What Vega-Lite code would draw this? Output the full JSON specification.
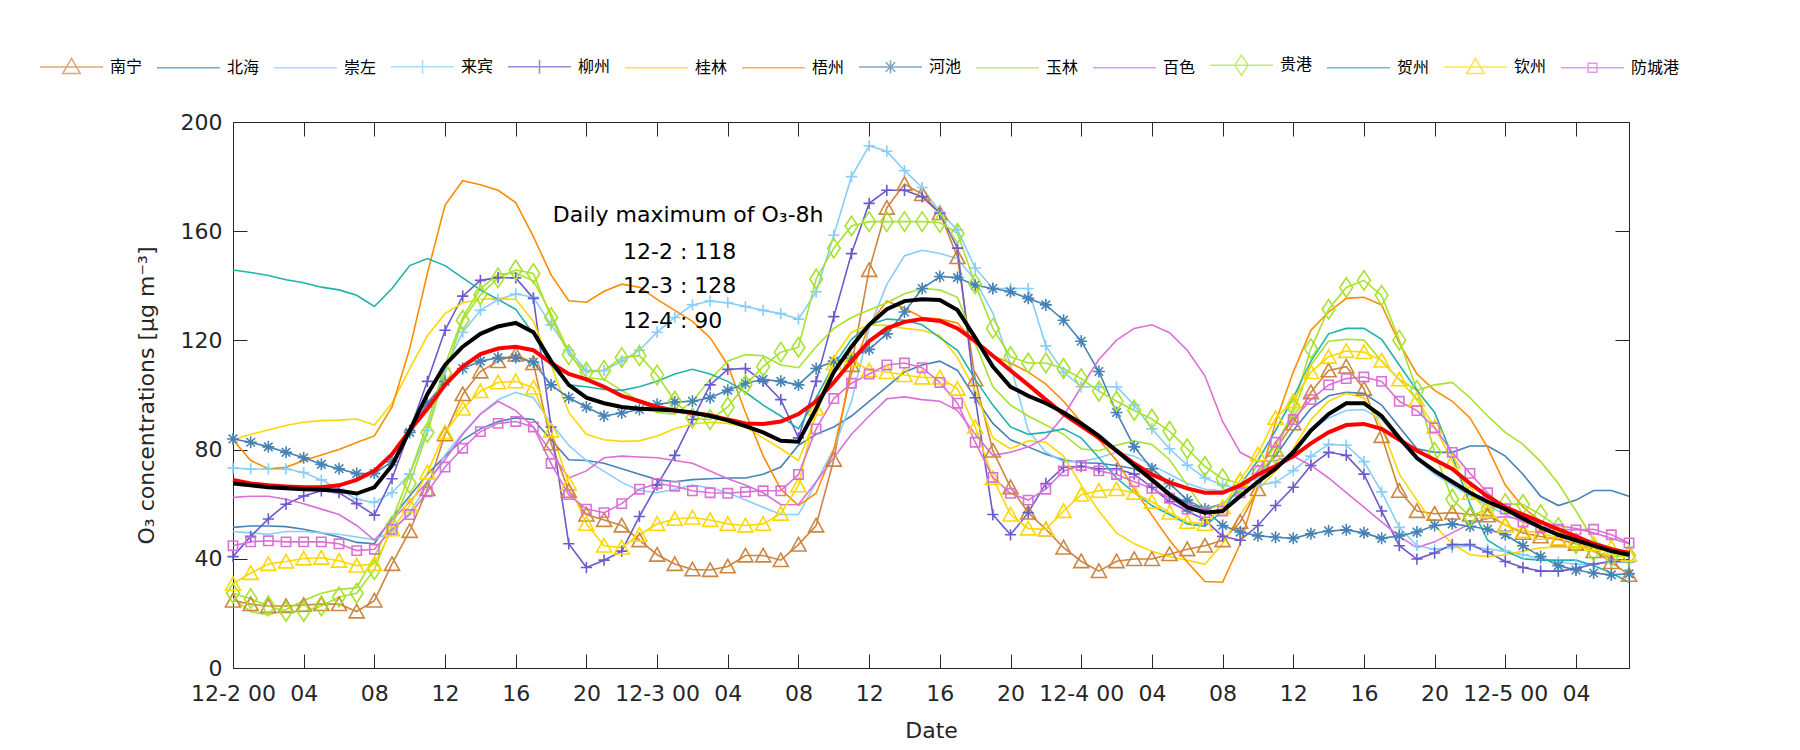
{
"$schema": "https://vega.github.io/schema/vega-lite/v6.json",
"width": 1396, "height": 546,
"autosize": {"type": "none"},
"padding": {"left": 233, "top": 122, "right": 171, "bottom": 82},
"background": "white",
"config": {
  "view": {"stroke": "#262626", "strokeWidth": 1},
  "axis": {"grid": false, "domain": false, "tickColor": "#262626", "tickWidth": 1, "tickSize": -14, "labelFont": "DejaVu Sans", "labelFontSize": 22, "labelColor": "#262626", "titleFont": "DejaVu Sans", "titleFontSize": 22, "titleFontWeight": "normal", "titleColor": "#262626"}
},
"datasets": {
"o3": [
{"h":0,"南宁":24.7,"北海":51.5,"崇左":50,"来宾":73.2,"柳州":40.8,"桂林":83.6,"梧州":83.6,"河池":83.9,"玉林":25.4,"百色":62.5,"贵港":27.4,"贺州":145.8,"钦州":30.8,"防城港":44.8,"avg8h":68.9,"avg":67.6},
{"h":1,"南宁":23.4,"北海":52,"崇左":49.5,"来宾":72.9,"柳州":48.2,"桂林":85.6,"梧州":76,"河池":82.7,"玉林":20.7,"百色":62.9,"贵港":25.4,"贺州":144.9,"钦州":34.8,"防城港":46.2,"avg8h":67.6,"avg":66.9},
{"h":2,"南宁":22.7,"北海":52,"崇左":49,"来宾":72.9,"柳州":54.6,"桂林":87.2,"梧州":73,"河池":81,"玉林":19.4,"百色":62.9,"贵港":22.7,"贺州":143.8,"钦州":38.1,"防城港":46.6,"avg8h":66.9,"avg":66.2},
{"h":3,"南宁":22.7,"北海":51.8,"崇左":50,"来宾":72.9,"柳州":60,"桂林":88.8,"梧州":73.5,"河池":79,"玉林":21.4,"百色":61.8,"贵港":20.7,"贺州":142.2,"钦州":39,"防城港":46.2,"avg8h":66.5,"avg":65.8},
{"h":4,"南宁":23.1,"北海":50.8,"崇左":50,"来宾":71.6,"柳州":63,"桂林":90,"梧州":76,"河池":77,"玉林":24.7,"百色":60.2,"贵港":20.7,"贺州":141.1,"钦州":40.1,"防城港":46.2,"avg8h":66.2,"avg":65.5},
{"h":5,"南宁":23.4,"北海":49.5,"崇左":49.5,"来宾":68.9,"柳州":64.9,"桂林":90.6,"梧州":78,"河池":74.6,"玉林":27.4,"百色":58.2,"贵港":22.7,"贺州":139.5,"钦州":40.4,"防城港":46.2,"avg8h":66.2,"avg":65.3},
{"h":6,"南宁":23.4,"北海":48,"崇左":49,"来宾":65.5,"柳州":64.2,"桂林":90.8,"梧州":80,"河池":73,"玉林":28.8,"百色":56.2,"贵港":26,"贺州":138.5,"钦州":39.3,"防城港":45.5,"avg8h":66.9,"avg":64.9},
{"h":7,"南宁":20.7,"北海":46,"崇左":48,"来宾":61.8,"柳州":60.2,"桂林":91.2,"梧州":82.6,"河池":71.2,"玉林":29.4,"百色":52.2,"贵港":27.4,"贺州":136.5,"钦州":37.5,"防城港":43,"avg8h":68.9,"avg":63.9},
{"h":8,"南宁":24.7,"北海":45.5,"崇左":47,"来宾":60.6,"柳州":56,"桂林":89,"梧州":85,"河池":71.3,"玉林":40.8,"百色":46.8,"贵港":36,"贺州":132.4,"钦州":38.1,"防城港":43.5,"avg8h":72.2,"avg":66.2},
{"h":9,"南宁":38.1,"北海":55,"崇左":50,"来宾":64.2,"柳州":69.3,"桂林":97,"梧州":95.6,"河池":75.6,"玉林":54.2,"百色":54.2,"贵港":52,"贺州":139,"钦州":50.8,"防城港":50.8,"avg8h":78.3,"avg":74.2},
{"h":10,"南宁":50.2,"北海":63,"崇左":57,"来宾":71,"柳州":87,"桂林":109.7,"梧州":117,"河池":86.3,"玉林":71,"百色":60.9,"贵港":67.6,"贺州":147.4,"钦州":59.5,"防城港":56.2,"avg8h":87,"avg":87},
{"h":11,"南宁":65.5,"北海":71,"崇左":67,"来宾":87,"柳州":105,"桂林":121.7,"梧州":144.5,"河池":97,"玉林":89.6,"百色":68.2,"贵港":86.3,"贺州":150,"钦州":71.6,"防城港":64.5,"avg8h":95,"avg":100.3},
{"h":12,"南宁":85.6,"北海":77.6,"崇左":78,"来宾":109.7,"柳州":123.7,"桂林":129.8,"梧州":169.6,"河池":105,"玉林":111,"百色":76.3,"贵港":108,"贺州":147.4,"钦州":86.3,"防城港":73.6,"avg8h":103.7,"avg":111},
{"h":13,"南宁":100.3,"北海":83.6,"崇左":86,"来宾":123,"柳州":136.2,"桂林":133.8,"梧州":178.5,"河池":109.7,"玉林":128.4,"百色":85.6,"贵港":127.4,"贺州":142.9,"钦州":95,"防城港":80.5,"avg8h":110.4,"avg":117.7},
{"h":14,"南宁":108.6,"北海":87.6,"崇左":93,"来宾":131,"柳州":142,"桂林":135,"梧州":177,"河池":112.4,"玉林":139,"百色":93,"贵港":136.7,"贺州":138.5,"钦州":101.4,"防城港":86.6,"avg8h":115,"avg":122.4},
{"h":15,"南宁":112.4,"北海":90.3,"崇左":98.3,"来宾":135,"柳州":143,"桂林":135.4,"梧州":175,"河池":113.7,"玉林":144.2,"百色":97.7,"贵港":142.9,"贺州":135,"钦州":104.6,"防城港":89.6,"avg8h":117,"avg":125.1},
{"h":16,"南宁":114.8,"北海":91.6,"崇左":101,"来宾":137,"柳州":142.9,"桂林":135,"梧州":170.5,"河池":113.7,"玉林":144.7,"百色":94.3,"贵港":145.8,"贺州":131.4,"钦州":105,"防城港":90.3,"avg8h":117.7,"avg":126.4},
{"h":17,"南宁":111.7,"北海":91,"崇左":99,"来宾":135.8,"柳州":135.4,"桂林":127,"梧州":158,"河池":112,"玉林":141.8,"百色":88.3,"贵港":144.5,"贺州":122.4,"钦州":102.7,"防城港":88.3,"avg8h":116.4,"avg":123},
{"h":18,"南宁":82.3,"北海":83.6,"崇左":89.6,"来宾":125.7,"柳州":88.3,"桂林":111,"梧州":144,"河池":103.7,"玉林":129.8,"百色":79,"贵港":128.4,"贺州":111,"钦州":87,"防城港":74.9,"avg8h":111.7,"avg":112.4},
{"h":19,"南宁":64.9,"北海":76.3,"崇左":81.6,"来宾":116.4,"柳州":45.5,"桂林":93.6,"梧州":134.5,"河池":99,"玉林":115.7,"百色":69.6,"贵港":114.8,"贺州":103.7,"钦州":67.6,"防城港":63.5,"avg8h":107.7,"avg":103.7},
{"h":20,"南宁":56.2,"北海":76,"崇左":76,"来宾":109,"柳州":36.8,"桂林":85.6,"梧州":134,"河池":95.6,"玉林":106.4,"百色":72.2,"贵港":108.4,"贺州":103,"钦州":52.8,"防城港":58.2,"avg8h":105.7,"avg":99},
{"h":21,"南宁":54.2,"北海":75,"崇左":72,"来宾":109,"柳州":39.5,"桂林":83.6,"梧州":138,"河池":92.3,"玉林":105.7,"百色":77,"贵港":109,"贺州":102,"钦州":44.8,"防城港":56.9,"avg8h":103,"avg":97},
{"h":22,"南宁":52.2,"北海":73,"崇左":68,"来宾":112.4,"柳州":42.8,"桂林":83,"梧州":140.6,"河池":93.4,"玉林":101.7,"百色":77.6,"贵港":113.7,"贺州":101.7,"钦州":44.1,"防城港":60.2,"avg8h":99.7,"avg":95.6},
{"h":23,"南宁":46.8,"北海":71,"崇左":65,"来宾":116.4,"柳州":55.5,"桂林":83.2,"梧州":139.5,"河池":94.7,"玉林":97.7,"百色":77.3,"贵港":114.4,"贺州":103,"钦州":48.8,"防城港":65.5,"avg8h":97.7,"avg":95},
{"h":24,"南宁":41.5,"北海":69,"崇左":64.2,"来宾":123,"柳州":67,"桂林":85,"梧州":135,"河池":96.6,"玉林":93.6,"百色":77,"贵港":107.3,"贺州":105,"钦州":52.8,"防城港":67.6,"avg8h":95.6,"avg":94.7},
{"h":25,"南宁":38.1,"北海":68.2,"崇左":65.5,"来宾":128.4,"柳州":77.9,"桂林":87.6,"梧州":131,"河池":97.4,"玉林":93,"百色":76,"贵港":97.7,"贺州":107.7,"钦州":54.6,"防城港":66.6,"avg8h":94.3,"avg":94.3},
{"h":26,"南宁":36.1,"北海":69,"崇左":67,"来宾":133,"柳州":91,"桂林":89.4,"梧州":127,"河池":97.7,"玉林":97.7,"百色":75,"贵港":91.6,"贺州":109.4,"钦州":55.1,"防城港":64.9,"avg8h":93.4,"avg":93.6},
{"h":27,"南宁":35.9,"北海":69.3,"崇左":66,"来宾":134.4,"柳州":103.7,"桂林":90,"梧州":121,"河池":99,"玉林":105.7,"百色":72.2,"贵港":91,"贺州":107.7,"钦州":54.2,"防城港":64.2,"avg8h":92.6,"avg":92.3},
{"h":28,"南宁":37.2,"北海":69.6,"崇左":64.2,"来宾":133.8,"柳州":109.4,"桂林":89.6,"梧州":111,"河池":101.7,"玉林":112.4,"百色":69.3,"贵港":95.6,"贺州":105,"钦州":52.8,"防城港":64,"avg8h":91,"avg":90.7},
{"h":29,"南宁":41.2,"北海":69.6,"崇左":61.5,"来宾":132.4,"柳州":109.7,"桂林":88.3,"梧州":93.6,"河池":104.3,"玉林":114.8,"百色":67,"贵港":103.7,"贺州":101,"钦州":52.2,"防城港":64.5,"avg8h":89.6,"avg":88.6},
{"h":30,"南宁":41.2,"北海":71,"崇左":58.9,"来宾":131,"柳州":105,"桂林":84.3,"梧州":77.7,"河池":105.7,"玉林":114.4,"百色":64.2,"贵港":110.4,"贺州":96.3,"钦州":52.8,"防城港":64.9,"avg8h":89.4,"avg":86.3},
{"h":31,"南宁":39.5,"北海":73.6,"崇左":56.2,"来宾":129.8,"柳州":98.3,"桂林":80.3,"梧州":65.5,"河池":105,"玉林":111,"百色":59.8,"贵港":115.7,"贺州":92.3,"钦州":56.5,"防城港":64.9,"avg8h":90.3,"avg":83.2},
{"h":32,"南宁":45.2,"北海":81.6,"崇左":56.2,"来宾":127.8,"柳州":84.3,"桂林":76,"梧州":59.5,"河池":103.7,"玉林":110,"百色":59.9,"贵港":117.5,"贺州":87.6,"钦州":66.9,"防城港":70.9,"avg8h":93,"avg":82.9},
{"h":33,"南宁":52.2,"北海":85.6,"崇左":68,"来宾":137.8,"柳州":105,"桂林":92.3,"梧州":64,"河池":109.7,"玉林":117.7,"百色":68.2,"贵港":142.5,"贺州":99,"钦州":95,"防城港":87.6,"avg8h":97.7,"avg":95},
{"h":34,"南宁":76.3,"北海":88.3,"崇左":80.3,"来宾":158.5,"柳州":128.7,"桂林":113.7,"梧州":80,"河池":112.4,"玉林":124.4,"百色":77,"贵港":153.8,"贺州":111,"钦州":111.7,"防城港":98.7,"avg8h":104.6,"avg":108.4},
{"h":35,"南宁":111,"北海":92.3,"崇左":97.7,"来宾":180,"柳州":151.8,"桂林":123,"梧州":108,"河池":113.7,"玉林":128.4,"百色":85.6,"贵港":161.9,"贺州":120.4,"钦州":113,"防城港":104.3,"avg8h":112.4,"avg":117.7},
{"h":36,"南宁":145.8,"北海":97.7,"崇左":124.4,"来宾":191.3,"柳州":170.2,"桂林":125.7,"梧州":125.7,"河池":116.7,"玉林":131.1,"百色":92.3,"贵港":163.5,"贺州":125.7,"钦州":109,"防城港":107.7,"avg8h":119.7,"avg":125.7},
{"h":37,"南宁":168.6,"北海":103,"崇左":140.5,"来宾":189.3,"柳州":175,"桂林":125.5,"梧州":134.4,"河池":122.4,"玉林":133.8,"百色":98.6,"贵港":163.5,"贺州":127.8,"钦州":108.4,"防城港":111,"avg8h":124.4,"avg":131.4},
{"h":38,"南宁":177.3,"北海":108.4,"崇左":151,"来宾":182.2,"柳州":175,"桂林":124.4,"梧州":131.8,"河池":130.4,"玉林":137.1,"百色":99.3,"贵港":163.5,"贺州":127.4,"钦州":107.3,"防城港":111.7,"avg8h":126.8,"avg":134.4},
{"h":39,"南宁":173.6,"北海":111,"崇左":153,"来宾":176,"柳州":172.6,"桂林":123.7,"梧州":128.4,"河池":139,"玉林":139,"百色":98.3,"贵港":163.5,"贺州":125.7,"钦州":106.4,"防城港":110,"avg8h":127.8,"avg":135.1},
{"h":40,"南宁":166.6,"北海":112.4,"崇左":151.8,"来宾":167,"柳州":166.6,"桂林":121.7,"梧州":127.8,"河池":143.4,"玉林":138.5,"百色":97.7,"贵港":163.2,"贺州":121,"钦州":106.4,"防城港":104.6,"avg8h":127.1,"avg":134.8},
{"h":41,"南宁":150.5,"北海":109,"崇左":150,"来宾":160.5,"柳州":153.8,"桂林":113.7,"梧州":126.4,"河池":143,"玉林":135.8,"百色":94.3,"贵港":159.2,"贺州":116.4,"钦州":102.3,"防城港":97,"avg8h":124.4,"avg":131.1},
{"h":42,"南宁":105.7,"北海":99,"崇左":142,"来宾":146.5,"柳州":99,"桂林":101.7,"梧州":119,"河池":140.2,"玉林":119,"百色":85.6,"贵港":140.7,"贺州":105.7,"钦州":88.3,"防城港":82.7,"avg8h":119.7,"avg":121},
{"h":43,"南宁":79.6,"北海":89.6,"崇左":130,"来宾":139,"柳州":56.2,"桂林":84.3,"梧州":114.4,"河池":139,"玉林":103,"百色":77.9,"贵港":124.4,"贺州":96.3,"钦州":69.6,"防城港":69.8,"avg8h":114.4,"avg":110.4},
{"h":44,"南宁":66.2,"北海":83.6,"崇左":111,"来宾":139,"柳州":48.8,"桂林":80.3,"梧州":111.7,"河池":137.8,"玉林":96.3,"百色":79,"贵港":114,"贺州":88.3,"钦州":56.2,"防城港":64,"avg8h":109,"avg":103},
{"h":45,"南宁":56.9,"北海":81,"崇左":87,"来宾":139,"柳州":56.9,"桂林":83.2,"梧州":108.4,"河池":135.4,"玉林":92.3,"百色":81,"贵港":111.7,"贺州":85.6,"钦州":51.1,"防城港":61.5,"avg8h":103.7,"avg":99.7},
{"h":46,"南宁":50.8,"北海":78.3,"崇左":79,"来宾":118,"柳州":67.6,"桂林":82.7,"梧州":104,"河池":133,"玉林":89,"百色":84.3,"贵港":111.7,"贺州":86.3,"钦州":50.8,"防城港":65.5,"avg8h":98.3,"avg":97},
{"h":47,"南宁":44.1,"北海":76.3,"崇左":75.6,"来宾":108.4,"柳州":73.6,"桂林":77.6,"梧州":97.7,"河池":127.4,"玉林":85.6,"百色":92.3,"贵港":109.7,"贺州":87.6,"钦州":57.5,"防城港":72.2,"avg8h":93,"avg":93.6},
{"h":48,"南宁":39.1,"北海":75.2,"崇左":75.6,"来宾":103,"柳州":73.8,"桂林":67,"梧州":90,"河池":119.7,"玉林":80.3,"百色":103,"贵港":106,"贺州":84.3,"钦州":63.5,"防城港":74.2,"avg8h":88.6,"avg":89.6},
{"h":49,"南宁":35.5,"北海":75,"崇左":77,"来宾":103,"柳州":73,"桂林":57.5,"梧州":83.6,"河池":108.6,"玉林":79.6,"百色":113,"贵港":101.4,"贺州":77,"钦州":64.9,"防城港":72.2,"avg8h":84.3,"avg":85},
{"h":50,"南宁":39.1,"北海":74.2,"崇左":79,"来宾":103,"柳州":73,"桂林":49.5,"梧州":76,"河池":93.6,"玉林":81.6,"百色":120.1,"贵港":97.7,"贺州":69.6,"钦州":65.5,"防城港":70.9,"avg8h":79.6,"avg":79.6},
{"h":51,"南宁":39.9,"北海":73,"崇左":77.6,"来宾":96.3,"柳州":71,"桂林":45.5,"梧州":65.5,"河池":81,"玉林":83.2,"百色":124.4,"贵港":94.3,"贺州":64.2,"钦州":64.2,"防城港":68.2,"avg8h":74.9,"avg":74.2},
{"h":52,"南宁":39.9,"北海":69.6,"崇左":74.3,"来宾":87.6,"柳州":66.2,"桂林":42.8,"梧州":56,"河池":73,"玉林":81.9,"百色":125.7,"贵港":91.2,"贺州":59.5,"钦州":60.9,"防城港":65.8,"avg8h":70.9,"avg":68.9},
{"h":53,"南宁":41.7,"北海":64.2,"崇左":71,"来宾":80.3,"柳州":60.9,"桂林":40.8,"梧州":46.8,"河池":67.6,"玉林":76.3,"百色":122.8,"贵港":86.7,"贺州":56.2,"钦州":56.9,"防城港":62.2,"avg8h":68,"avg":63.5},
{"h":54,"南宁":43.5,"北海":60.2,"崇左":67.6,"来宾":74.3,"柳州":57.5,"桂林":39.5,"梧州":38.8,"河池":61.5,"玉林":67,"百色":116.4,"贵港":80.3,"贺州":52.8,"钦州":53.5,"防城港":58.2,"avg8h":65.8,"avg":58.9},
{"h":55,"南宁":44.8,"北海":58.2,"崇左":65.5,"来宾":69.6,"柳州":54.2,"桂林":38,"梧州":31.7,"河池":58.2,"玉林":57.5,"百色":107,"贵港":73.8,"贺州":52,"钦州":52.8,"防城港":56.9,"avg8h":64.2,"avg":56.9},
{"h":56,"南宁":46.8,"北海":60.2,"崇左":64.9,"来宾":67,"柳州":48.2,"桂林":45.5,"梧州":31.4,"河池":52.2,"玉林":60.2,"百色":90.3,"贵港":69.3,"贺州":57.5,"钦州":58.9,"防城港":57.5,"avg8h":64.2,"avg":57.5},
{"h":57,"南宁":53.5,"北海":65,"崇左":67,"来宾":65.5,"柳州":46.8,"桂林":56.2,"梧州":45.5,"河池":49.8,"玉林":65.5,"百色":79,"贵港":67.6,"贺州":67,"钦州":68.9,"防城港":64.2,"avg8h":66.9,"avg":62.9},
{"h":58,"南宁":65.5,"北海":71,"崇左":69.6,"来宾":67,"柳州":52.2,"桂林":65.5,"梧州":67,"河池":48.4,"玉林":72.2,"百色":75.6,"贵港":71,"贺州":76,"钦州":78.3,"防城港":72.2,"avg8h":70.9,"avg":68.2},
{"h":59,"南宁":80,"北海":77.6,"崇左":73.6,"来宾":68,"柳州":59.5,"桂林":72,"梧州":90,"河池":47.9,"玉林":81.6,"百色":76,"贵港":78.3,"贺州":87,"钦州":91.6,"防城港":82.7,"avg8h":74,"avg":73},
{"h":60,"南宁":89.6,"北海":87,"崇左":79.6,"来宾":72.3,"柳州":66.2,"桂林":80.3,"梧州":108.4,"河池":47.5,"玉林":93.6,"百色":77.6,"贵港":95.6,"贺州":99,"钦州":97.7,"防城港":91,"avg8h":77.5,"avg":79},
{"h":61,"南宁":101,"北海":95,"崇左":87,"来宾":77.6,"柳州":74.2,"桂林":91,"梧州":123.7,"河池":49.2,"玉林":111,"百色":74.2,"贵港":117,"贺州":112.4,"钦州":108.4,"防城港":98.3,"avg8h":82.3,"avg":87},
{"h":62,"南宁":109,"北海":99.7,"崇左":91.6,"来宾":81.9,"柳州":79,"桂林":97.7,"梧州":130.4,"河池":50.2,"玉林":119.7,"百色":69.6,"贵港":131.4,"贺州":122.4,"钦州":114,"防城港":103.7,"avg8h":86.3,"avg":93},
{"h":63,"南宁":110.4,"北海":101,"崇左":94.3,"来宾":81.6,"柳州":77.9,"桂林":100.6,"梧州":135.4,"河池":50.6,"玉林":120.4,"百色":64.2,"贵港":139.4,"贺州":124.4,"钦州":116.1,"防城港":106,"avg8h":89,"avg":97},
{"h":64,"南宁":102.3,"北海":100.6,"崇左":94.7,"来宾":75.6,"柳州":71,"桂林":99,"梧州":135.8,"河池":49.5,"玉林":120.1,"百色":58.9,"贵港":142,"贺州":124.4,"钦州":115.7,"防城港":106.6,"avg8h":89.4,"avg":97},
{"h":65,"南宁":85,"北海":96.3,"崇左":91,"来宾":64.5,"柳州":57.5,"桂林":88.3,"梧州":133,"河池":47.5,"玉林":112.4,"百色":53.5,"贵港":136.5,"贺州":120.4,"钦州":112.6,"防城港":105,"avg8h":87.6,"avg":92.3},
{"h":66,"南宁":64.9,"北海":88.3,"崇左":83.6,"来宾":51.5,"柳州":44.8,"桂林":71,"梧州":119,"河池":48.4,"玉林":105.7,"百色":48.2,"贵港":120.1,"贺州":111,"钦州":105.7,"防城港":97.7,"avg8h":83.6,"avg":84.3},
{"h":67,"南宁":57.5,"北海":80.3,"崇左":76.3,"来宾":44.8,"柳州":39.9,"桂林":61.5,"梧州":107.7,"河池":49.8,"玉林":101.7,"百色":44.1,"贵港":101.7,"贺州":101.7,"钦州":98.3,"防城港":94.3,"avg8h":79.6,"avg":76.9},
{"h":68,"南宁":56.5,"北海":79,"崇左":71,"来宾":43.5,"柳州":42.1,"桂林":52.2,"梧州":101.7,"河池":52.2,"玉林":103.7,"百色":46.2,"贵港":79,"贺州":93.6,"钦州":88.3,"防城港":88,"avg8h":76.3,"avg":72.2},
{"h":69,"南宁":56.9,"北海":79,"崇左":67,"来宾":44.2,"柳州":45.2,"桂林":45.5,"梧州":97.7,"河池":52.8,"玉林":104.6,"百色":49.5,"贵港":61.8,"贺州":77.6,"钦州":75.6,"防城港":79,"avg8h":72.9,"avg":68.2},
{"h":70,"南宁":56.2,"北海":81.3,"崇左":63,"来宾":44.8,"柳州":45.2,"桂林":41.5,"梧州":91.6,"河池":51.9,"玉林":99,"百色":52.8,"贵港":55.5,"贺州":60,"钦州":64.2,"防城港":71.3,"avg8h":67.6,"avg":64.2},
{"h":71,"南宁":55.9,"北海":81.3,"崇左":59.5,"来宾":43.5,"柳州":42.5,"桂林":40.8,"梧州":80.7,"河池":50.8,"玉林":92.3,"百色":54.8,"贵港":58.2,"贺州":46.8,"钦州":57.5,"防城港":64.2,"avg8h":62.9,"avg":60.9},
{"h":72,"南宁":52.4,"北海":77.6,"崇左":56.2,"来宾":42.8,"柳州":39,"桂林":41.5,"梧州":67,"河池":48.8,"玉林":86.3,"百色":55.5,"贵港":60.2,"贺州":42.8,"钦州":52.2,"防城港":58.2,"avg8h":58.9,"avg":58.2},
{"h":73,"南宁":49.5,"北海":71,"崇左":53.5,"来宾":41.5,"柳州":36.8,"桂林":42.8,"梧州":59,"河池":44.8,"玉林":81.9,"百色":54.2,"贵港":59.9,"贺州":40,"钦州":50.2,"防城港":53.5,"avg8h":56.2,"avg":54.8},
{"h":74,"南宁":48.2,"北海":62.9,"崇左":51.5,"来宾":40,"柳州":35.5,"桂林":44,"梧州":53.5,"河池":40.8,"玉林":75.6,"百色":52.8,"贵港":56.2,"贺州":39.5,"钦州":49.5,"防城港":51.5,"avg8h":53.5,"avg":51.5},
{"h":75,"南宁":47.1,"北海":59.5,"崇左":49.5,"来宾":38.8,"柳州":35.5,"桂林":44.3,"梧州":50.8,"河池":37.5,"玉林":67.6,"百色":52.2,"贵港":51.5,"贺州":39.5,"钦州":47.5,"防城港":50.8,"avg8h":50.8,"avg":48.8},
{"h":76,"南宁":45.5,"北海":61.5,"崇左":47.5,"来宾":38,"柳州":36.4,"桂林":44,"梧州":46.8,"河池":35.9,"玉林":57.5,"百色":51.1,"贵港":45.5,"贺州":39.5,"钦州":46.8,"防城港":50.6,"avg8h":48.2,"avg":46.8},
{"h":77,"南宁":42.8,"北海":65,"崇左":46.2,"来宾":38,"柳州":38.1,"桂林":44,"梧州":42.8,"河池":34.8,"玉林":46.8,"百色":49.5,"贵港":42.8,"贺州":37.5,"钦州":45.5,"防城港":50.8,"avg8h":45.5,"avg":44.8},
{"h":78,"南宁":38.8,"北海":65,"崇左":44,"来宾":38.8,"柳州":39,"桂林":43.5,"梧州":40,"河池":34.1,"玉林":42.1,"百色":47.5,"贵港":40.8,"贺州":34.8,"钦州":44.1,"防城港":48.8,"avg8h":43.5,"avg":42.8},
{"h":79,"南宁":34.1,"北海":62.9,"崇左":42.1,"来宾":38.8,"柳州":39,"桂林":41.5,"梧州":38.8,"河池":34.5,"玉林":40.8,"百色":45.5,"贵港":41.2,"贺州":31.4,"钦州":41.5,"防城港":45.8,"avg8h":42.1,"avg":41.5}
],
"notes": [
{"x":18.1,"y":163.4,"t":"Daily maximum of O₃-8h"},
{"x":22.07,"y":149.8,"t":"12-2 : 118"},
{"x":22.07,"y":137.4,"t":"12-3 : 128"},
{"x":22.07,"y":124.5,"t":"12-4 : 90"}
]
},
"resolve": {"scale": {"color": "independent", "shape": "independent"}, "axis": {"x": "independent", "y": "independent"}},
"layer": [
{
  "data": {"name": "o3"},
  "transform": [
    {"fold": ["南宁","北海","崇左","来宾","柳州","桂林","梧州","河池","玉林","百色","贵港","贺州","钦州","防城港","avg8h","avg"], "as": ["s","v"]},
    {"filter": {"field": "s", "oneOf": ["南宁","北海","崇左","来宾","柳州","桂林","梧州","河池","玉林","百色","贵港","贺州","钦州","防城港"]}}
  ],
  "mark": {"type": "line", "strokeWidth": 1.6},
  "encoding": {
    "x": {"field": "h", "type": "quantitative", "scale": {"domain": [0,79], "nice": false, "zero": false},
          "axis": {"orient": "bottom", "values": [0,4,8,12,16,20,24,28,32,36,40,44,48,52,56,60,64,68,72,76], "labelExpr": "datum.value % 24 == 0 ? '12-' + (2 + datum.value / 24) + ' 00' : ((datum.value % 24) < 10 ? '0' : '') + (datum.value % 24)", "title": "Date", "labelPadding": 29, "titlePadding": 16, "labelFlush": false, "labelOverlap": false}},
    "y": {"field": "v", "type": "quantitative", "scale": {"domain": [0,200], "nice": false},
          "axis": {"orient": "left", "values": [0,40,80,120,160,200], "title": "O₃ concentrations [μg m⁻³]", "labelPadding": 25, "titlePadding": 22}},
    "color": {"field": "s", "type": "nominal",
              "scale": {"domain": ["南宁","北海","崇左","来宾","柳州","桂林","梧州","河池","玉林","百色","贵港","贺州","钦州","防城港"],
                        "range": ["#CD853F","#4682B4","#87CEFA","#87CEFA","#6A5ACD","#FFD700","#FF8C00","#4682B4","#A6E22E","#DA70D6","#A6E22E","#20B2AA","#FFD700","#DA70D6"]},
              "legend": null}
  }
},
{
  "data": {"name": "o3"},
  "transform": [
    {"fold": ["南宁","来宾","柳州","河池","贵港","钦州","防城港"], "as": ["s","v"]}
  ],
  "mark": {"type": "point", "filled": false, "strokeWidth": 1.6, "size": 225, "opacity": 1},
  "encoding": {
    "x": {"field": "h", "type": "quantitative", "axis": null},
    "y": {"field": "v", "type": "quantitative", "axis": null},
    "color": {"field": "s", "type": "nominal",
              "scale": {"domain": ["南宁","北海","崇左","来宾","柳州","桂林","梧州","河池","玉林","百色","贵港","贺州","钦州","防城港"],
                        "range": ["#CD853F","#4682B4","#87CEFA","#87CEFA","#6A5ACD","#FFD700","#FF8C00","#4682B4","#A6E22E","#DA70D6","#A6E22E","#20B2AA","#FFD700","#DA70D6"]},
              "legend": null},
    "shape": {"field": "s", "type": "nominal",
              "scale": {"domain": ["南宁","来宾","柳州","河池","贵港","钦州","防城港"],
                        "range": ["M0,-0.95L1,0.85H-1Z","M-0.75,0H0.75M0,-0.75V0.75","M-0.75,0H0.75M0,-0.75V0.75","M-0.8,0H0.8M0,-0.8V0.8M-0.57,-0.57L0.57,0.57M-0.57,0.57L0.57,-0.57","M0,-1.3L0.85,0L0,1.3L-0.85,0Z","M0,-0.95L1,0.85H-1Z","M-0.62,-0.62H0.62V0.62H-0.62Z"]},
              "legend": null}
  }
},
{
  "data": {"name": "o3"},
  "transform": [{"fold": ["avg8h"], "as": ["s","v"]}],
  "mark": {"type": "line", "color": "#FF0000", "strokeWidth": 4},
  "encoding": {
    "x": {"field": "h", "type": "quantitative", "axis": null},
    "y": {"field": "v", "type": "quantitative", "axis": null}
  }
},
{
  "data": {"name": "o3"},
  "transform": [{"fold": ["avg"], "as": ["s","v"]}],
  "mark": {"type": "line", "color": "#000000", "strokeWidth": 4},
  "encoding": {
    "x": {"field": "h", "type": "quantitative", "axis": {"orient": "top", "values": [0,4,8,12,16,20,24,28,32,36,40,44,48,52,56,60,64,68,72,76], "labels": false, "title": null}},
    "y": {"field": "v", "type": "quantitative", "axis": {"orient": "right", "values": [0,40,80,120,160,200], "labels": false, "title": null}}
  }
},
{
  "data": {"name": "o3"},
  "transform": [
    {"fold": ["南宁","北海","崇左","来宾","柳州","桂林","梧州","河池","玉林","百色","贵港","贺州","钦州","防城港"], "as": ["s","v"]},
    {"filter": {"field": "h", "lt": 0}}
  ],
  "mark": {"type": "point", "filled": false, "strokeWidth": 1.5},
  "encoding": {
    "x": {"field": "h", "type": "quantitative", "axis": null},
    "y": {"field": "v", "type": "quantitative", "axis": null},
    "color": {"field": "s", "type": "nominal",
              "scale": {"domain": ["南宁","北海","崇左","来宾","柳州","桂林","梧州","河池","玉林","百色","贵港","贺州","钦州","防城港"],
                        "range": ["#CD853F","#4682B4","#87CEFA","#87CEFA","#6A5ACD","#FFD700","#FF8C00","#4682B4","#A6E22E","#DA70D6","#A6E22E","#20B2AA","#FFD700","#DA70D6"]},
              "legend": {"orient": "none", "legendX": -194, "legendY": -89.5, "direction": "horizontal", "columns": 14, "title": null, "symbolSize": 3969, "symbolStrokeWidth": 1.5, "labelFont": "Noto Sans CJK SC", "labelFontSize": 16, "labelColor": "#000000", "labelOffset": 6, "columnPadding": 11, "padding": 0, "rowPadding": 0}},
    "shape": {"field": "s", "type": "nominal",
              "scale": {"domain": ["南宁","北海","崇左","来宾","柳州","桂林","梧州","河池","玉林","百色","贵港","贺州","钦州","防城港"],
                        "range": ["M-1,0H1M0,-0.27L0.28,0.21H-0.28Z","M-1,0H1","M-1,0H1","M-1,0H1M0,-0.22V0.22","M-1,0H1M0,-0.22V0.22","M-1,0H1","M-1,0H1","M-1,0H1M0,-0.21V0.21M-0.15,-0.15L0.15,0.15M-0.15,0.15L0.15,-0.15","M-1,0H1","M-1,0H1","M-1,0H1M0,-0.32L0.21,0L0,0.32L-0.21,0Z","M-1,0H1","M-1,0H1M0,-0.27L0.28,0.21H-0.28Z","M-1,0H1M-0.14,-0.14H0.14V0.14H-0.14Z"]},
              "legend": {"orient": "none", "legendX": -194, "legendY": -89.5, "direction": "horizontal", "columns": 14, "title": null, "symbolSize": 3969, "symbolStrokeWidth": 1.5, "labelFont": "Noto Sans CJK SC", "labelFontSize": 16, "labelColor": "#000000", "labelOffset": 6, "columnPadding": 11, "padding": 0, "rowPadding": 0}}
  }
},
{
  "data": {"name": "notes"},
  "mark": {"type": "text", "align": "left", "baseline": "alphabetic", "font": "DejaVu Sans", "fontSize": 22, "color": "#000000"},
  "encoding": {
    "x": {"field": "x", "type": "quantitative", "axis": null},
    "y": {"field": "y", "type": "quantitative", "axis": null},
    "text": {"field": "t", "type": "nominal"}
  }
}
]
}
